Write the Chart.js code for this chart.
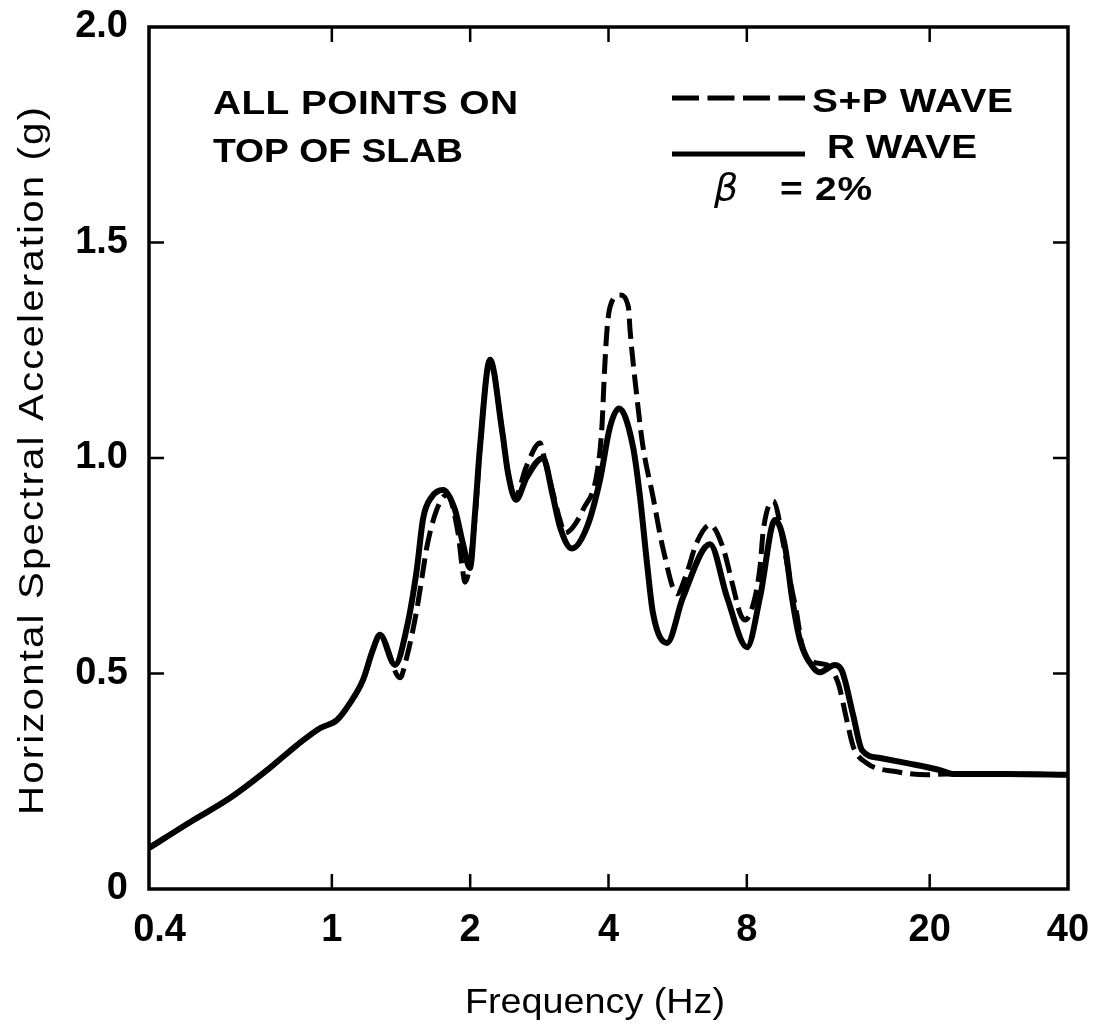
<!DOCTYPE html>
<html><head><meta charset="utf-8">
<script src="https://cdn.jsdelivr.net/npm/chart.js@4/dist/chart.umd.min.js"></script>
<style>html,body{margin:0;padding:0;background:#fff;} canvas{display:block}</style>
</head><body>
<canvas id="c" width="1093" height="1027"></canvas>
<script>
// R WAVE (solid)
const freqR = [0.4, 0.491, 0.6, 0.733, 0.84, 0.942, 1.026, 1.095, 1.169, 1.228, 1.273, 1.372, 1.457, 1.53, 1.58, 1.65, 1.746, 1.853, 1.93, 1.998, 2.049, 2.101, 2.209, 2.346, 2.418, 2.516, 2.655, 2.881, 3.029, 3.137, 3.331, 3.592, 3.833, 4.03, 4.216, 4.523, 4.684, 4.851, 4.999, 5.362, 5.812, 6.652, 7.245, 8.009, 8.548, 9.214, 9.69, 10.03, 10.44, 11.14, 11.54, 12.44, 12.9, 13.62, 14.25, 15.59, 17.85, 21.06, 22.48, 29.47, 40];
const rWave = [0.095, 0.155, 0.211, 0.281, 0.334, 0.373, 0.392, 0.431, 0.485, 0.555, 0.59, 0.52, 0.608, 0.74, 0.86, 0.91, 0.926, 0.88, 0.80, 0.745, 0.872, 1.026, 1.228, 1.065, 0.965, 0.903, 0.955, 1.0, 0.91, 0.84, 0.79, 0.84, 0.949, 1.072, 1.115, 1.026, 0.91, 0.756, 0.64, 0.571, 0.677, 0.80, 0.677, 0.561, 0.677, 0.856, 0.794, 0.677, 0.578, 0.515, 0.503, 0.52, 0.505, 0.405, 0.322, 0.304, 0.292, 0.276, 0.267, 0.267, 0.265];
// S+P WAVE (dashed)
const freqSP = [0.4, 0.491, 0.6, 0.733, 0.84, 0.942, 1.026, 1.095, 1.169, 1.228, 1.273, 1.407, 1.45, 1.53, 1.58, 1.61, 1.69, 1.78, 1.882, 1.92, 1.949, 2.049, 2.101, 2.209, 2.346, 2.418, 2.504, 2.65, 2.838, 2.9, 3.03, 3.137, 3.216, 3.35, 3.52, 3.776, 3.87, 3.92, 3.97, 4.03, 4.236, 4.42, 4.456, 4.613, 4.755, 4.999, 5.256, 5.64, 5.92, 6.22, 6.652, 7.09, 7.47, 7.73, 7.928, 8.34, 8.548, 8.69, 9.13, 9.69, 9.93, 10.27, 10.53, 11.14, 11.94, 12.65, 13.2, 13.64, 14.6, 16.98, 19.74, 21.81, 29.47, 40];
const spWave = [0.095, 0.155, 0.211, 0.281, 0.334, 0.373, 0.392, 0.431, 0.485, 0.555, 0.59, 0.49, 0.531, 0.647, 0.74, 0.794, 0.879, 0.915, 0.826, 0.75, 0.712, 0.86, 1.026, 1.228, 1.065, 0.965, 0.91, 0.98, 1.035, 1.0, 0.918, 0.856, 0.826, 0.84, 0.88, 0.965, 1.072, 1.2, 1.297, 1.35, 1.378, 1.35, 1.297, 1.14, 1.026, 0.91, 0.79, 0.685, 0.733, 0.803, 0.845, 0.794, 0.701, 0.64, 0.624, 0.678, 0.748, 0.833, 0.90, 0.779, 0.717, 0.64, 0.57, 0.527, 0.52, 0.477, 0.392, 0.33, 0.292, 0.272, 0.265, 0.267, 0.267, 0.265];

const xTicks = [0.4, 1, 2, 4, 8, 20, 40];
const xTickLabels = ['  0.4', '1', '2', '4', '8', '20', '40'];
const yTicks = [0, 0.5, 1.0, 1.5, 2.0];
const yTickLabels = ['0', '0.5', '1.0', '1.5', '2.0'];
const seriesNames = ['S+P WAVE', 'R WAVE'];
const noteLines = ['ALL POINTS ON', 'TOP OF SLAB'];
const dampingSymbol = 'β';
const dampingText = '= 2%';
const xTitle = 'Frequency (Hz)';
const yTitle = 'Horizontal Spectral Acceleration (g)';

const FONT = '"Liberation Sans", Arial, sans-serif';

function drawFit(ctx, text, left, baseline, width, font, maxScale) {
  maxScale = maxScale || 1.18;
  ctx.save();
  ctx.font = font;
  try { ctx.letterSpacing = '0px'; } catch (e) {}
  const w = ctx.measureText(text).width;
  let sx = width / w;
  let sp = 0;
  if (sx > maxScale) {
    sx = maxScale;
    sp = (width - w * sx) / (text.length - 1) / sx;
  }
  ctx.translate(left, baseline);
  ctx.scale(sx, 1);
  try { ctx.letterSpacing = sp + 'px'; } catch (e) {}
  ctx.textAlign = 'left';
  ctx.textBaseline = 'alphabetic';
  ctx.fillText(text, 0, 0);
  ctx.restore();
}

const decor = {
  id: 'decor',
  afterDraw(chart) {
    const ctx = chart.ctx;
    const a = chart.chartArea;
    const xs = chart.scales.x, ys = chart.scales.y;
    ctx.save();
    ctx.strokeStyle = '#000';
    ctx.fillStyle = '#000';
    // frame
    ctx.lineWidth = 3.5;
    ctx.strokeRect(a.left, a.top, a.right - a.left, a.bottom - a.top);
    // inward ticks on all sides
    ctx.lineWidth = 2.5;
    const tl = 15;
    xTicks.forEach(v => {
      if (v === xTicks[0] || v === xTicks[xTicks.length - 1]) return;
      const px = xs.getPixelForValue(v);
      ctx.beginPath();
      ctx.moveTo(px, a.bottom); ctx.lineTo(px, a.bottom - tl);
      ctx.moveTo(px, a.top); ctx.lineTo(px, a.top + tl);
      ctx.stroke();
    });
    yTicks.forEach(v => {
      if (v === yTicks[0] || v === yTicks[yTicks.length - 1]) return;
      const py = ys.getPixelForValue(v);
      ctx.beginPath();
      ctx.moveTo(a.left, py); ctx.lineTo(a.left + tl, py);
      ctx.moveTo(a.right, py); ctx.lineTo(a.right - tl, py);
      ctx.stroke();
    });
    // legend samples
    ctx.lineWidth = 5;
    ctx.setLineDash([27, 8.5]);
    ctx.beginPath(); ctx.moveTo(672, 98); ctx.lineTo(805, 98); ctx.stroke();
    ctx.setLineDash([]);
    ctx.beginPath(); ctx.moveTo(672, 154); ctx.lineTo(805, 154); ctx.stroke();
    // texts
    const noteFont = 'bold 33px ' + FONT;
    drawFit(ctx, noteLines[0], 213, 114, 305, noteFont);
    drawFit(ctx, noteLines[1], 213, 162, 250, noteFont);
    drawFit(ctx, seriesNames[0], 812, 112, 201, noteFont);
    drawFit(ctx, seriesNames[1], 827, 158, 150, noteFont);
    ctx.font = 'italic 38px "DejaVu Sans", sans-serif';
    ctx.textAlign = 'left'; ctx.textBaseline = 'alphabetic';
    ctx.fillText(dampingSymbol, 714, 200);
    drawFit(ctx, dampingText, 780, 200, 92, noteFont);
    // axis titles
    const titleFont = '35px ' + FONT;
    drawFit(ctx, xTitle, 465, 1013, 260, titleFont);
    ctx.translate(43, 461);
    ctx.rotate(-Math.PI / 2);
    drawFit(ctx, yTitle, -354, 0, 708, titleFont, 1.15);
    ctx.restore();
  }
};

const toPts = (xsArr, ysArr) => xsArr.map((x, i) => ({ x: x, y: ysArr[i] }));

new Chart(document.getElementById('c'), {
  type: 'scatter',
  data: {
    datasets: [
      {
        label: seriesNames[0],
        data: toPts(freqSP, spWave),
        showLine: true,
        borderColor: '#000',
        borderWidth: 5,
        borderDash: [20, 8],
        pointRadius: 0,
        cubicInterpolationMode: 'monotone',
        fill: false
      },
      {
        label: seriesNames[1],
        data: toPts(freqR, rWave),
        showLine: true,
        borderColor: '#000',
        borderWidth: 6,
        pointRadius: 0,
        cubicInterpolationMode: 'monotone',
        fill: false
      }
    ]
  },
  options: {
    responsive: false,
    animation: false,
    devicePixelRatio: 1,
    layout: { padding: { top: 27, right: 25, left: 0, bottom: 0 } },
    plugins: { legend: { display: false }, tooltip: { enabled: false } },
    scales: {
      x: {
        type: 'logarithmic',
        min: 0.4, max: 40,
        afterBuildTicks: s => { s.ticks = xTicks.map(v => ({ value: v })); },
        afterFit: s => { s.height = 138; s.paddingLeft = 0; s.paddingRight = 0; },
        grid: { display: false, drawTicks: false },
        border: { display: false },
        ticks: {
          autoSkip: false, maxRotation: 0, minRotation: 0,
          padding: 19, color: '#000',
          font: { family: FONT, size: 38, weight: 'bold' },
          callback: (v, i) => xTickLabels[i]
        }
      },
      y: {
        type: 'linear',
        min: 0, max: 2,
        afterBuildTicks: s => { s.ticks = yTicks.map(v => ({ value: v })); },
        afterFit: s => { s.width = 149; s.paddingTop = 0; s.paddingBottom = 0; },
        grid: { display: false, drawTicks: false },
        border: { display: false },
        ticks: {
          padding: 21, color: '#000',
          font: { family: FONT, size: 38, weight: 'bold' },
          callback: (v, i) => yTickLabels[i]
        }
      }
    }
  },
  plugins: [decor]
});
</script>
</body></html>
